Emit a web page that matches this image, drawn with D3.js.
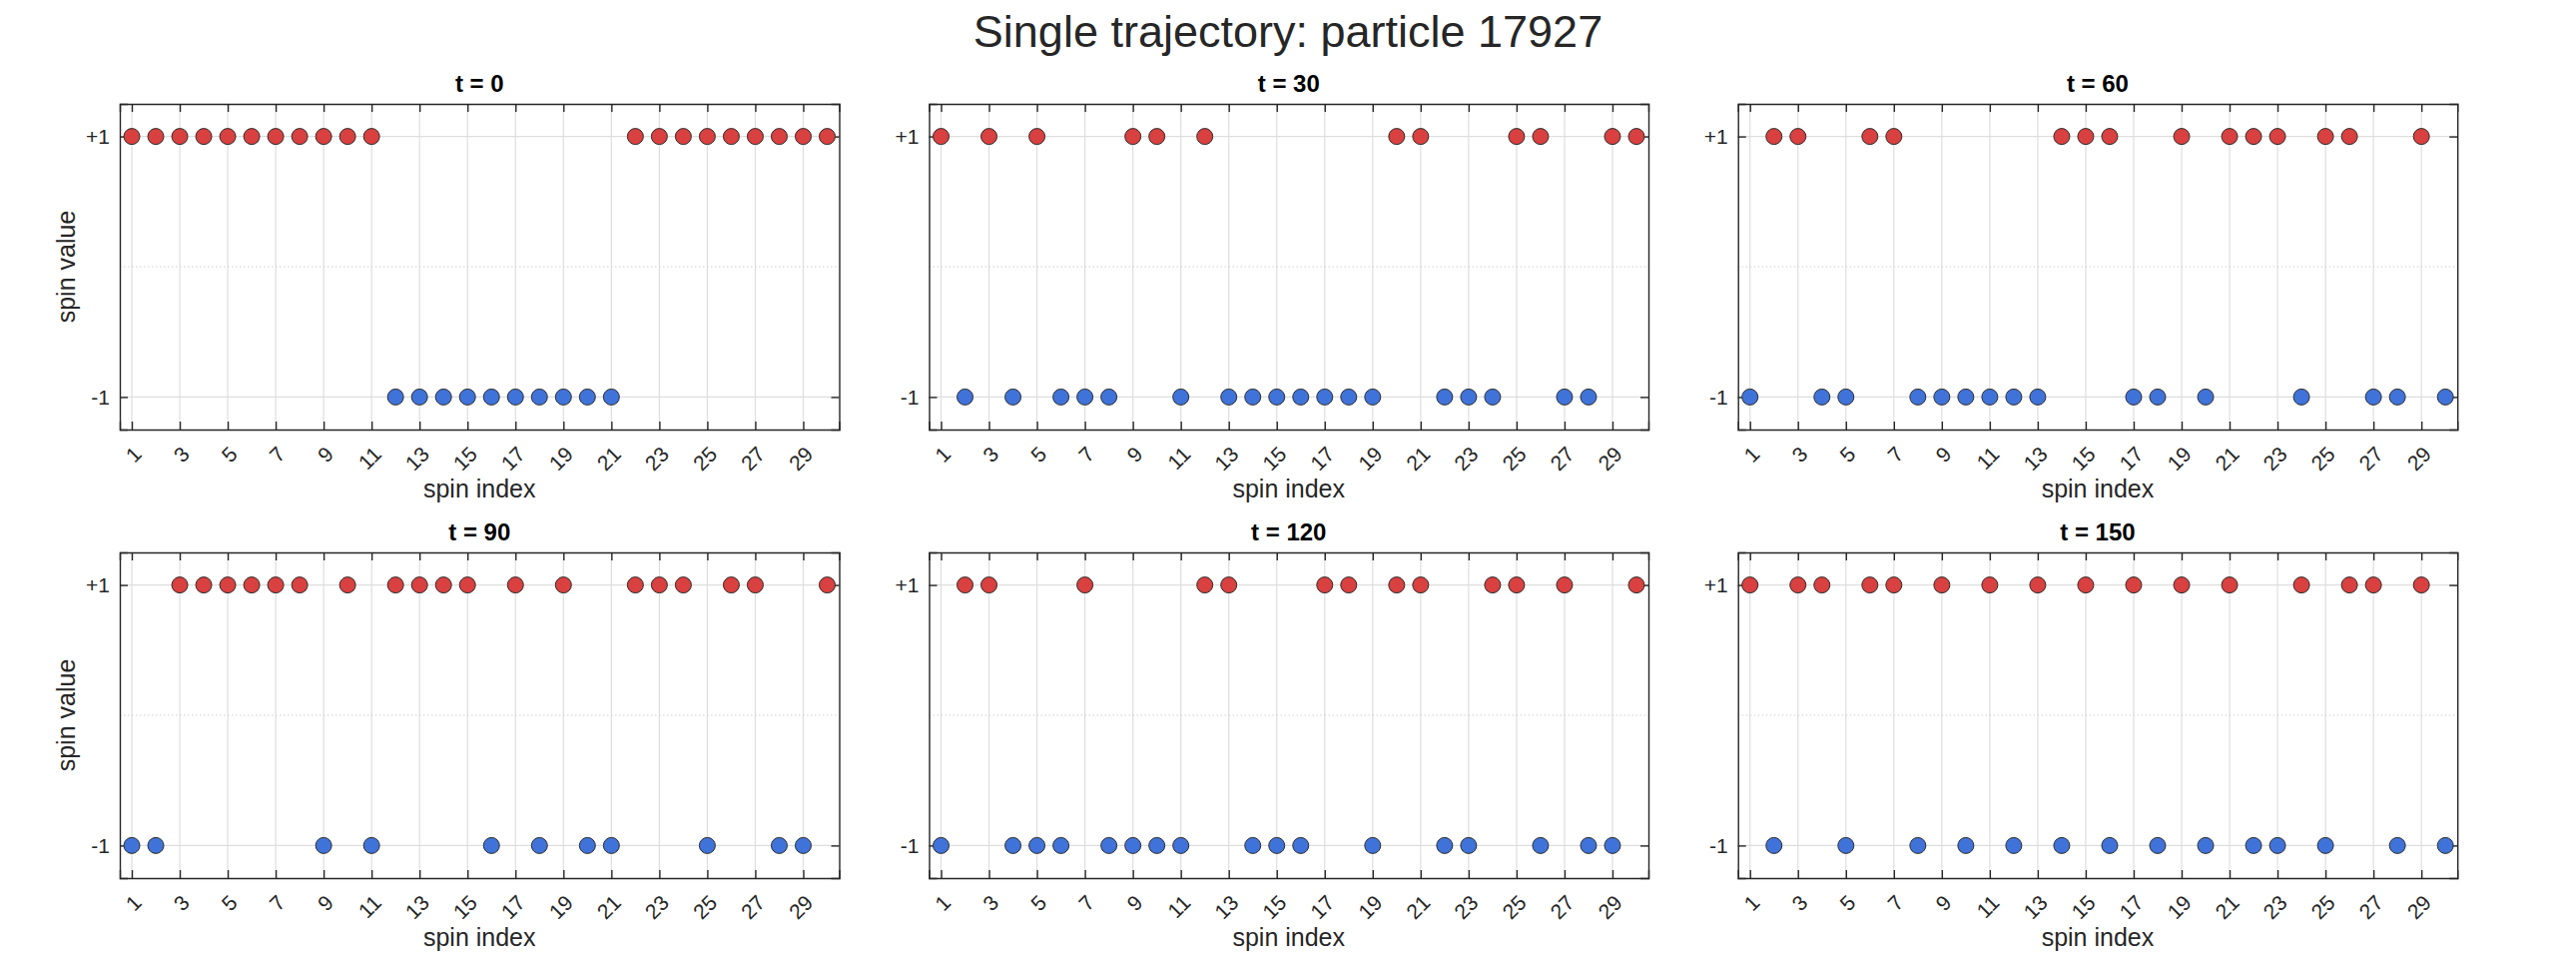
<!DOCTYPE html>
<html>
<head>
<meta charset="utf-8">
<script src="https://cdn.jsdelivr.net/npm/d3@7"></script>
<style>
  body { margin: 0; background: #fff; }
  svg text { font-family: "Liberation Sans", Arial, sans-serif; fill: #262626; }
</style>
</head>
<body>
<div id="chart"></div>
<script>
// spin states of particle 17927 at selected time steps (index 1..30)
var spinIndex = d3.range(1, 31);
var timeSteps = [0, 30, 60, 90, 120, 150];

var spinsT0   = [1,1,1,1,1,1,1,1,1,1,1,-1,-1,-1,-1,-1,-1,-1,-1,-1,-1,1,1,1,1,1,1,1,1,1];
var spinsT30  = [1,-1,1,-1,1,-1,-1,-1,1,1,-1,1,-1,-1,-1,-1,-1,-1,-1,1,1,-1,-1,-1,1,1,-1,-1,1,1];
var spinsT60  = [-1,1,1,-1,-1,1,1,-1,-1,-1,-1,-1,-1,1,1,1,-1,-1,1,-1,1,1,1,-1,1,1,-1,-1,1,-1];
var spinsT90  = [-1,-1,1,1,1,1,1,1,-1,1,-1,1,1,1,1,-1,1,-1,1,-1,-1,1,1,1,-1,1,1,-1,-1,1];
var spinsT120 = [-1,1,1,-1,-1,-1,1,-1,-1,-1,-1,1,1,-1,-1,-1,1,1,-1,1,1,-1,-1,1,1,-1,1,-1,-1,1];
var spinsT150 = [1,-1,1,1,-1,1,1,-1,1,-1,1,-1,1,-1,1,-1,1,-1,1,-1,1,-1,-1,1,-1,1,1,-1,1,-1];

var allSpins = [spinsT0, spinsT30, spinsT60, spinsT90, spinsT120, spinsT150];

var xTicks = d3.range(1, 30, 2);
var yTicks = [-1, 1];
var yTickLabels = {"-1": "-1", "1": "+1"};

var upColor = "#d94040";
var downColor = "#4073d9";

//figure size and panel grid
var svgWidth = 2580;
var svgHeight = 960;
var colLeft = [120, 930.5, 1740.7];
var rowTop = [104, 553];
var panelW = 720.5;
var panelH = 326;

var svg = d3.select("#chart")
  .append("svg")
  .attr("width", svgWidth)
  .attr("height", svgHeight);

svg.append("text")
  .attr("x", 1290)
  .attr("y", 47)
  .attr("text-anchor", "middle")
  .style("font-size", "45px")
  .text("Single trajectory: particle 17927");

var xScale = d3.scaleLinear().domain([0.5, 30.5]).range([0, panelW]);
var yScale = d3.scaleLinear().domain([-1.25, 1.25]).range([panelH, 0]);

timeSteps.forEach(function(t, i) {
  var col = i % 3;
  var row = Math.floor(i / 3);
  var spins = allSpins[i];
  var data = spinIndex.map(function(k, j) { return {idx: k, s: spins[j]}; });

  var g = svg.append("g")
    .attr("transform", `translate(${colLeft[col]}, ${rowTop[row]})`);

  // grid
  g.append("g").selectAll("line")
    .data(xTicks)
    .enter()
    .append("line")
    .attr("x1", d => xScale(d)).attr("x2", d => xScale(d))
    .attr("y1", 0).attr("y2", panelH)
    .attr("stroke", "#dedede")
    .attr("stroke-width", 1.2);

  g.append("g").selectAll("line")
    .data(yTicks)
    .enter()
    .append("line")
    .attr("x1", 0).attr("x2", panelW)
    .attr("y1", d => yScale(d)).attr("y2", d => yScale(d))
    .attr("stroke", "#dedede")
    .attr("stroke-width", 1.2);

  // dotted zero line
  g.append("line")
    .attr("x1", 0).attr("x2", panelW)
    .attr("y1", yScale(0)).attr("y2", yScale(0))
    .attr("stroke", "#cfcfcf")
    .attr("stroke-width", 1.2)
    .attr("stroke-dasharray", "1.5,2.5");

  // axes with inward ticks on all four sides
  var bottomAxis = d3.axisBottom(xScale).tickValues(xTicks).tickSize(-8).tickFormat("");
  var topAxis = d3.axisTop(xScale).tickValues(xTicks).tickSize(-8).tickFormat("");
  var leftAxis = d3.axisLeft(yScale).tickValues(yTicks).tickSize(-8).tickFormat("");
  var rightAxis = d3.axisRight(yScale).tickValues(yTicks).tickSize(-8).tickFormat("");

  [
    [bottomAxis, `translate(0, ${panelH})`],
    [topAxis, "translate(0, 0)"],
    [leftAxis, "translate(0, 0)"],
    [rightAxis, `translate(${panelW}, 0)`]
  ].forEach(function(a) {
    var ax = g.append("g").attr("transform", a[1]).call(a[0]);
    ax.select(".domain").attr("stroke", "#262626").attr("stroke-width", 1.4);
    ax.selectAll(".tick line").attr("stroke", "#262626").attr("stroke-width", 1.4);
  });

  // tick labels
  g.append("g").selectAll("text")
    .data(xTicks)
    .enter()
    .append("text")
    .attr("transform", d => `translate(${xScale(d) + 11}, ${panelH + 26}) rotate(-45)`)
    .attr("text-anchor", "end")
    .style("font-size", "21px")
    .text(d => d);

  g.append("g").selectAll("text")
    .data(yTicks)
    .enter()
    .append("text")
    .attr("x", -10)
    .attr("y", d => yScale(d))
    .attr("dy", "0.35em")
    .attr("text-anchor", "end")
    .style("font-size", "21px")
    .text(d => yTickLabels[d]);

  // spins
  g.append("g").selectAll("circle")
    .data(data)
    .enter()
    .append("circle")
    .attr("cx", d => xScale(d.idx))
    .attr("cy", d => yScale(d.s))
    .attr("r", 8)
    .attr("fill", d => d.s > 0 ? upColor : downColor)
    .attr("stroke", "#2b2b2b")
    .attr("stroke-width", 1);

  // titles and labels
  g.append("text")
    .attr("x", panelW / 2)
    .attr("y", -12)
    .attr("text-anchor", "middle")
    .style("font-size", "24px")
    .style("font-weight", "bold")
    .style("fill", "#000")
    .text("t = " + t);

  g.append("text")
    .attr("x", panelW / 2)
    .attr("y", panelH + 68)
    .attr("text-anchor", "middle")
    .style("font-size", "25px")
    .text("spin index");

  if (col === 0) {
    g.append("text")
      .attr("transform", `translate(-45, ${panelH / 2}) rotate(-90)`)
      .attr("text-anchor", "middle")
      .style("font-size", "25px")
      .text("spin value");
  }
});
</script>
</body>
</html>
